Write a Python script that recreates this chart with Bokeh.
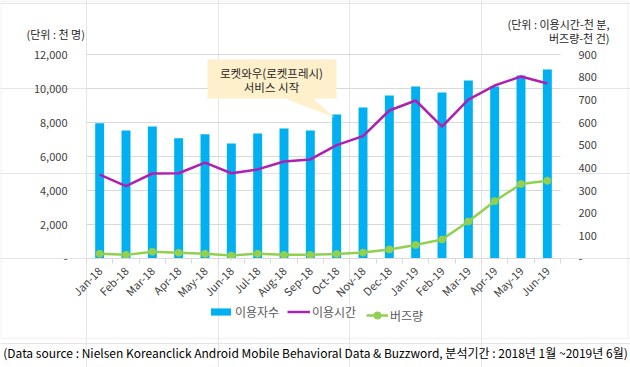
import numpy as np
from bokeh.plotting import figure
from bokeh.models import (Range1d, LinearAxis, FixedTicker, Legend, LegendItem,
                          Label, BoxAnnotation, PolyAnnotation)
from bokeh.embed import file_html
from bokeh.resources import INLINE

months = ["Jan-18", "Feb-18", "Mar-18", "Apr-18", "May-18", "Jun-18", "Jul-18", "Aug-18", "Sep-18",
          "Oct-18", "Nov-18", "Dec-18", "Jan-19", "Feb-19", "Mar-19", "Apr-19", "May-19", "Jun-19"]
users = [7950, 7530, 7760, 7080, 7310, 6760, 7350, 7650, 7530,
         8470, 8880, 9590, 10120, 9760, 10470, 10120, 10760, 11120]
usage_time = [370, 319, 375, 376, 423, 376, 393, 428, 437,
              500, 540, 653, 697, 582, 701, 763, 803, 772]
buzz = [21, 16, 30, 25, 21, 13, 21, 16, 16,
        20, 26, 40, 60, 84, 163, 253, 329, 343]
left_ticks = [0, 2000, 4000, 6000, 8000, 10000, 12000]
right_ticks = [0, 100, 200, 300, 400, 500, 600, 700, 800, 900]

FONT = "Noto Sans CJK KR"
BLUE = "#00B0F0"
PURPLE = "#B020B0"
GREEN = "#92D050"
TXT = "#404040"

# layout (page pixels): plotting area and canvas
W, H = 630, 367
PL, PR, PT, PB = 86, 560, 54, 258
n = len(months)
xc = np.arange(n) + 0.5
LMAX, RMAX = left_ticks[-1], right_ticks[-1]

kx = (PR - PL) / n
ky = (PB - PT) / LMAX
kr = (PB - PT) / RMAX
x_range = Range1d(-PL / kx, n + (W - PR) / kx)
y_range = Range1d(-(H - PB) / ky, PB / ky)

p = figure(width=W, height=H, output_backend="svg", toolbar_location=None,
           x_range=x_range, y_range=y_range, min_border=0,
           x_axis_location=None, y_axis_location=None)
p.extra_y_ranges = {"right": Range1d(-(H - PB) / kr, PB / kr)}
p.outline_line_color = None

# gridlines
p.segment(x0=0, x1=n, y0=left_ticks[1:], y1=left_ticks[1:], line_color="#D9D9D9", line_width=1)

bars = p.vbar(x=xc, top=users, width=0.34, color=BLUE, line_color=None)
pl = p.line(x=xc, y=usage_time, y_range_name="right", line_color=PURPLE, line_width=2.5)
gl = p.line(x=xc, y=buzz, y_range_name="right", line_color=GREEN, line_width=2.5)
gs = p.scatter(x=xc, y=buzz, y_range_name="right", size=7, color=GREEN)

# axes
xa = LinearAxis(fixed_location=0, bounds=(0, n))
xa.ticker = FixedTicker(ticks=list(xc), minor_ticks=list(range(n + 1)))
xa.major_label_overrides = {float(x): m for x, m in zip(xc, months)}
xa.major_label_orientation = np.pi / 4
xa.major_tick_out = 0
xa.major_tick_in = 0
xa.minor_tick_out = 5
xa.minor_tick_in = 0
xa.minor_tick_line_color = "#D9D9D9"
xa.axis_line_color = "#D9D9D9"
xa.major_label_text_font = FONT
xa.major_label_text_font_size = "11px"
xa.major_label_text_color = TXT
xa.major_label_standoff = 5
p.add_layout(xa, "below")

ya = LinearAxis(fixed_location=0, ticker=FixedTicker(ticks=left_ticks))
ya.major_label_overrides = {t: ("-" if t == 0 else f"{t:,}") for t in left_ticks}
ya.axis_line_color = None
ya.major_tick_line_color = None
ya.minor_tick_line_color = None
ya.major_label_standoff = 13
ya.major_label_text_font = FONT
ya.major_label_text_font_size = "11px"
ya.major_label_text_color = TXT
p.add_layout(ya, "left")

ra = LinearAxis(fixed_location=n, y_range_name="right", ticker=FixedTicker(ticks=right_ticks))
ra.major_label_overrides = {t: ("-" if t == 0 else f"{t}") for t in right_ticks}
ra.axis_line_color = None
ra.major_tick_line_color = None
ra.minor_tick_line_color = None
ra.major_label_standoff = 12
ra.major_label_text_font = FONT
ra.major_label_text_font_size = "11px"
ra.major_label_text_color = TXT
p.add_layout(ra, "right")

# callout (screen units; frame = whole canvas, y measured from bottom)
def S(y):
    return H - y

p.add_layout(BoxAnnotation(left=207, right=336, top=S(59), bottom=S(98),
                           left_units="screen", right_units="screen", top_units="screen", bottom_units="screen",
                           fill_color="#FFF0CC", fill_alpha=1, line_color=None))
p.add_layout(PolyAnnotation(xs=[283, 312, 334], ys=[S(97.5), S(97.5), S(117)],
                            xs_units="screen", ys_units="screen",
                            fill_color="#FFF0CC", fill_alpha=1, line_color=None))
for txt, yy in [("로켓와우(로켓프레시)", 72), ("서비스 시작", 86)]:
    p.add_layout(Label(x=271, y=S(yy), x_units="screen", y_units="screen", text=txt,
                       text_align="center", text_baseline="middle",
                       text_font=FONT, text_font_size="11.5px", text_color="#262626"))

# unit labels
p.add_layout(Label(x=26, y=S(33), x_units="screen", y_units="screen", text="(단위 : 천 명)",
                   text_baseline="middle", text_font=FONT, text_font_size="11px", text_color="#262626"))
p.add_layout(Label(x=609, y=S(23), x_units="screen", y_units="screen", text="(단위 : 이용시간-천 분,",
                   text_align="right", text_baseline="middle", text_font=FONT, text_font_size="11px",
                   text_color="#262626"))
p.add_layout(Label(x=609, y=S(37), x_units="screen", y_units="screen", text="버즈량-천 건)",
                   text_align="right", text_baseline="middle", text_font=FONT, text_font_size="11px",
                   text_color="#262626"))

# outer border
p.add_layout(BoxAnnotation(left=0.5, right=627.5, top=S(0.5), bottom=S(338),
                           left_units="screen", right_units="screen", top_units="screen", bottom_units="screen",
                           fill_alpha=0, line_color="#D9D9D9", line_width=1.5))

# footnote
p.add_layout(Label(x=315, y=S(352), x_units="screen", y_units="screen",
                   text="(Data source : Nielsen Koreanclick Android Mobile Behavioral Data & Buzzword, 분석기간 : 2018년 1월 ~2019년 6월)",
                   text_align="center", text_baseline="middle", text_font=FONT, text_font_size="12px",
                   text_color="#000000"))

# legend: one Legend per entry so each glyph can have its own size
LEG_Y = 315
for item, x0, gw, gh in [(LegendItem(label="이용자수", renderers=[bars]), 208, 25, 9),
                         (LegendItem(label="이용시간", renderers=[pl]), 287, 23, 9),
                         (LegendItem(label="버즈량", renderers=[gl, gs]), 366, 22, 18)]:
    lg = Legend(items=[item], orientation="horizontal", location=(x0, S(LEG_Y + gh / 2)),
                glyph_width=gw, glyph_height=gh, label_height=gh, label_standoff=2,
                padding=0, margin=0, border_line_color=None, background_fill_alpha=0,
                label_text_font=FONT, label_text_font_size="12px", label_text_color="#595959")
    p.add_layout(lg, "center")

open("out.html", "w").write(file_html(p, INLINE))
